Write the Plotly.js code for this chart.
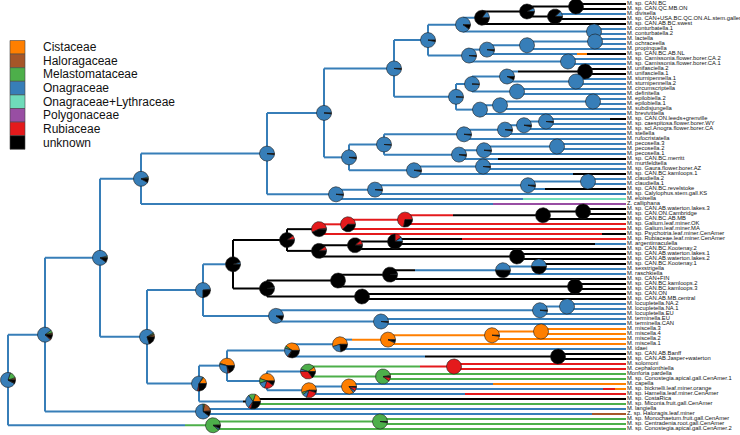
<!DOCTYPE html>
<html><head><meta charset="utf-8">
<script src="https://cdn.plot.ly/plotly-3.0.1.min.js"></script>
<style>html,body{margin:0;padding:0;background:#fff}#chart{width:740px;height:435px}</style>
</head><body><div id="chart"></div>
<script>
// ---- states (host plant families) ----
const states = ["Cistaceae","Haloragaceae","Melastomataceae","Onagraceae","Onagraceae+Lythraceae","Polygonaceae","Rubiaceae","unknown"];
const stateColors = ["#FF7F00","#A65628","#4DAF4A","#377EB8","#6FDBBA","#984EA3","#E41A1C","#000000"];

// ---- tips (top to bottom) ----
const tipLabels = [
"M. sp. CAN.BC","M. sp. CAN.QC.MB.ON","M. divisella","M. sp. CAN+USA.BC.QC.ON.AL.stem.galler","M. sp. CAN.AB.BC.swest",
"M. conturbatella.1","M. conturbatella.2","M. lactella","M. ochraceella","M. propinquella",
"M. sp. CAN.BC.AB.NL","M. sp. Camissonia.flower.borer.CA.2","M. sp. Camissonia.flower.borer.CA.1","M. unifasciella.2","M. unifasciella.1",
"M. sturnipennella.1","M. sturnipennella.2","M. circumscriptella","M. definitella","M. epilobiella.2",
"M. epilobiella.1","M. subdisjungella","M. brevivittella","M. sp. CAN.ON.leeds+grenville","M. sp. caespitosa.flower.borer.WY",
"M. sp. scl.Anogra.flower.borer.CA","M. stellella","M. rufocristatella","M. pecosella.3","M. pecosella.2",
"M. pecosella.1","M. sp. CAN.BC.merritt","M. murtfeldtella","M. sp. Gaura.flower.borer.AZ","M. sp. CAN.BC.kamloops.1",
"M. claudiella.2","M. claudiella.1","M. sp. CAN.BC.revelstoke","M. sp. Calylophus.stem.gall.KS","M. eloisella",
"Z. calliphana","M. sp. CAN.AB.waterton.lakes.3","M. sp. CAN.ON.Cambridge","M. sp. CAN.BC.AB.MB","M. sp. Galium.leaf.miner.OK",
"M. sp. Galium.leaf.miner.MA","M. sp. Psychotria.leaf.miner.CenAmer","M. sp. Rubiaceae.leaf.miner.CenAmer","M. argentimaculella","M. sp. CAN.BC.Kootenay.2",
"M. sp. CAN.AB.waterton.lakes.1","M. sp. CAN.AB.waterton.lakes.2","M. sp. CAN.BC.Kootenay.1","M. sexstrigella","M. raschkiella",
"M. sp. CAN+FIN","M. sp. CAN.BC.kamloops.2","M. sp. CAN.BC.kamloops.3","M. sp. CAN.ON","M. sp. CAN.AB.MB.central",
"M. locupletella.NA.2","M. locupletella.NA.1","M. locupletella.EU","M. terminella.EU","M. terminella.CAN",
"M. miscella.3","M. miscella.4","M. miscella.2","M. miscella.1","M. idaei",
"M. sp. CAN.AB.Banff","M. sp. CAN.AB.Jasper+waterton","M. solomoni","M. cephalonthiella","Monforia pardella",
"M. sp. Conostegia.apical.gall.CenAmer.1","M. capella","M. sp. bicknelli.leaf.miner.orange","M. sp. Hamelia.leaf.miner.CenAmer","M. sp. CostaRica",
"M. sp. Miconia.fruit.gall.CenAmer","M. langiella","Z. sp. Haloragis.leaf.miner","M. sp. Monochaetum.fruit.gall.CenAmer","M. sp. Centradenia.root.gall.CenAmer",
"M. sp. Conostegia.apical.gall.CenAmer.2"];
const tipParent = [
"n576","n576","n555","n555","n482","n594a","n594a","n595b","n595b","n527b",
"n487","n568","n568","n585","n585","n576b","n576b","n517","n517","n593",
"n593","n500","n480","n546","n546","n524","n505","n464","n557","n557",
"n484","n459","n483","n483","n414","n588","n588","n528","n375","n336",
"n141","n583","n583","n543","n405","n348","n319","n395","n395","n355",
"n517b","n517b","n539","n539","n503","n390","n575","n575","n362","n362",
"n567","n567","n540","n381","n381","n541","n541","n492","n388","n340",
"n558","n558","n454","n454","n383","n383","n349b","n349b","n309","n253",
"n253","nH","nH","nB1","nB1","nB"];
// stochastic map on each tip edge: state, switch depth, state, ...
const tipMap = [
[7],[7],[3],[7],[7],[3],[3],[3],[3],[3],
[3,577,0,587,7],[3],[3],[7],[7],[3],[3],[3],[3],[3],
[3],[3],[3],[3,610,7],[3],[3],[3],[3],[3],[3],
[3],[3,498,7],[3],[3],[3,573,7],[3],[3],[3,545,7],[3],[3,523,4],
[3,493,5],[7],[7],[7],[6],[6],[6,602,7],[7,462,6],[7,595,3],[7],
[7],[7],[7],[3],[3],[7],[7],[7],[7],[7],
[3],[3],[3],[3],[3],[0],[0],[0],[0],[3],
[7],[7],[6],[6],[2],[2],[3,493,0],[3,603,6,615,0],[3,465,6],[7],
[2],[3],[3,592,1],[2],[2],[2]];
const tipDepth = 626;

// ---- internal nodes ----
const nodeIds = ["nR","nA","nB","nB1","nH","n100","n141","nD","n267","n324",
"n336","n394","n349","n428","n456","n463","n469","n482","n594a","n527",
"n576","n555","n487","n568","n527b","n595b","n472","n480","n507","n517",
"n585","n576b","n500","n593","n384","n414","n464","n459","n505","n524",
"n546","n484","n557","n483","n375","n528","n588","n203","nC","n233",
"n276","n287","n267b","n319","n319b","n348","n405","n543","n583","n355",
"n517b","n395","n338","n362","n390","n575","n503","n539","n540","n567",
"n381","n227","n253","n292","n267c","n340","n558","n388","n492","n541",
"n308","n309","n454","n383","n349b"];
const nodeParent = [null,"nR","nR","nB","nA","nA","n100","n100","n141","n267",
"n267","n324","n324","n394","n394","n428","n428","n463","n463","n482",
"n527","n527","n469","n469","n487","n527b","n456","n456","n472","n472",
"n507","n507","n480","n500","n349","n349","n384","n384","n464","n505",
"n524","n459","n484","n414","n336","n375","n528","nD","nD","n203",
"n203","n233","n233","n287","n287","n319","n348","n405","n543","n319b",
"n319b","n355","n267b","n267b","n338","n338","n390","n503","n276","n540",
"n276","nC","nC","n227","n227","n292","n292","n340","n388","n492",
"n267c","n267c","n308","n308","n309"];
const nodeX = [8,45,213,380,203,100,141,147,267,324,
336,394,349,428,456,463,469,482,594,527,
576,555,487,568,527,595,472,480,507,517,
585,576,500,593,384,414,464,459,505,524,
546,484,557,483,375,528,588,203,199,233,
276,287,267,319,319,348,405,543,583,355,
517,395,338,362,390,575,503,539,540,567,
381,227,253,292,267,340,558,388,492,541,
308,309,454,383,349];
const nodeMap = [null,[3],[3,185,2],[2],[3],[3],[3],[3],[3],[3],
[3],[3],[3],[3],[3],[3],[3],[3],[3],[7],
[7],[7],[3],[3],[3],[3],[3],[3],[3],[3],
[3,518,7],[3],[3],[3],[3],[3],[3],[3],[3],[3],
[3],[3],[3],[3],[3],[3],[3],[3],[3],[3],
[3],[7],[7],[7],[7],[6],[6],[6,453,7],[7],[7],
[7],[7],[7],[7],[7],[7],[7,415,3],[3],[3],[3],
[3],[3],[3,243,7],[3],[3],[3],[3,425,7],[3,352,0],[0],[0],
[3],[3],[2,420,6],[2],[3]];
// posterior probabilities of states at each node (Cist, Halo, Mel, Ona, O+L, Poly, Rub, unk)
const nodePie = [
[.02,.03,.15,.72,0,0,.01,.07],[.02,.02,.06,.78,0,0,.02,.10],[0,.01,.88,.04,0,0,0,.07],[0,0,.98,0,0,0,0,.02],[.02,.20,.03,.65,0,0,0,.10],
[.01,0,.03,.86,0,0,0,.10],[.01,0,.03,.88,0,0,0,.08],[.04,.02,.03,.71,0,0,0,.20],[0,0,0,.98,0,0,0,.02],[0,0,0,.98,0,0,0,.02],
[0,0,0,.98,0,0,0,.02],[0,0,0,.98,0,0,0,.02],[0,0,0,.97,0,0,0,.03],[0,0,0,.97,0,0,0,.03],[0,0,0,.99,0,0,0,.01],
[0,0,0,.90,0,0,0,.10],[0,0,0,.98,0,0,0,.02],[0,0,0,.15,0,0,0,.85],[0,0,0,1,0,0,0,0],[0,0,0,.08,0,0,0,.92],
[0,0,0,0,0,0,0,1],[0,0,0,.12,0,0,0,.88],[0,0,0,.97,0,0,0,.03],[0,0,0,1,0,0,0,0],[0,0,0,1,0,0,0,0],
[0,0,0,1,0,0,0,0],[0,0,0,.99,0,0,0,.01],[0,0,0,1,0,0,0,0],[0,0,0,.93,0,0,0,.07],[0,0,0,1,0,0,0,0],
[0,0,0,0,0,0,0,1],[0,0,0,1,0,0,0,0],[0,0,0,1,0,0,0,0],[0,0,0,1,0,0,0,0],[0,0,0,.99,0,0,0,.01],
[0,0,0,.97,0,0,0,.03],[0,0,0,.98,0,0,0,.02],[0,0,0,.97,0,0,0,.03],[0,0,0,.97,0,0,0,.03],[0,0,0,.97,0,0,0,.03],
[0,0,0,.98,0,0,0,.02],[0,0,0,.98,0,0,0,.02],[0,0,0,1,0,0,0,0],[0,0,0,.98,0,0,0,.02],[0,0,0,.98,0,0,0,.02],
[0,0,0,.97,0,0,0,.03],[0,0,0,1,0,0,0,0],[.01,0,.01,.73,0,0,0,.25],[.15,0,.02,.55,0,0,.03,.25],[0,0,0,.05,0,0,0,.95],
[0,0,0,.90,0,0,0,.10],[0,0,0,.02,0,0,.08,.90],[0,0,0,.03,0,0,0,.97],[0,0,0,.02,0,0,.55,.43],[0,0,0,.02,0,0,.08,.90],
[0,0,0,0,0,0,.62,.38],[0,0,0,0,0,0,.72,.28],[0,0,0,0,0,0,0,1],[0,0,0,0,0,0,0,1],[0,0,0,.02,0,0,.10,.88],
[0,0,0,0,0,0,0,1],[0,0,0,.10,0,0,.15,.75],[0,0,0,0,0,0,0,1],[0,0,0,0,0,0,0,1],[0,0,0,.02,0,0,0,.98],
[0,0,0,0,0,0,0,1],[0,0,0,.50,0,0,0,.50],[0,0,0,.50,0,0,0,.50],[0,0,0,.98,0,0,0,.02],[0,0,0,1,0,0,0,0],
[0,0,0,.98,0,0,0,.02],[.45,0,.02,.30,0,0,.03,.20],[.20,0,.15,.30,0,0,.05,.30],[.40,0,.05,.20,0,0,.02,.33],[.45,0,.10,.15,0,0,.20,.10],
[.55,0,0,.22,0,0,0,.23],[0,0,0,0,0,0,0,1],[.93,0,0,.02,0,0,0,.05],[.98,0,0,0,0,0,0,.02],[1,0,0,0,0,0,0,0],
[.10,0,.35,.05,0,0,.35,.15],[.55,0,.05,.10,0,0,.25,.05],[0,0,0,0,0,0,1,0],[.03,0,.87,0,0,0,.08,.02],[.85,0,0,.05,0,0,.08,.02]];

// ---- build tree geometry ----
const idx = {}; nodeIds.forEach((id,k)=>idx[id]=k);
const kids = nodeIds.map(()=>[]);
nodeIds.forEach((id,k)=>{ if(nodeParent[k]!==null) kids[idx[nodeParent[k]]].push({t:'n',k:k}); });
tipLabels.forEach((l,i)=>kids[idx[tipParent[i]]].push({t:'t',i:i}));
const nodeY = [];
function childY(c){ return c.t==='t' ? c.i : getY(c.k); }
function getY(k){
  if(nodeY[k]!==undefined) return nodeY[k];
  const ys = kids[k].map(childY);
  nodeY[k] = (Math.min(...ys)+Math.max(...ys))/2;
  return nodeY[k];
}
nodeIds.forEach((id,k)=>getY(k));

const segX = states.map(()=>[]), segY = states.map(()=>[]);
function addSeg(s,x0,y0,x1,y1){ segX[s].push(x0,x1,null); segY[s].push(y0,y1,null); }
function edge(pk, cx, cy, map){
  const px = nodeX[pk], py = nodeY[pk];
  addSeg(map[0], px, py, px, cy);
  let x = px;
  for(let j=0;j<map.length;j+=2){
    const xe = (j+1<map.length) ? map[j+1] : cx;
    addSeg(map[j], x, cy, xe, cy);
    x = xe;
  }
}
nodeIds.forEach((id,k)=>{ if(nodeParent[k]!==null) edge(idx[nodeParent[k]], nodeX[k], nodeY[k], nodeMap[k]); });
tipLabels.forEach((l,i)=>edge(idx[tipParent[i]], tipDepth, i, tipMap[i]));

const traces = [];
states.forEach((s,si)=>{
  if(segX[si].length) traces.push({type:'scatter',mode:'lines',x:segX[si],y:segY[si],
    line:{color:stateColors[si],width:2},hoverinfo:'skip',showlegend:false});
});

// pies
const RX = 7.5, RY = 1.5, NPT = 60;
nodeIds.forEach((id,k)=>{
  const cx = nodeX[k], cy = nodeY[k], p = nodePie[k];
  const tot = p.reduce((a,b)=>a+b,0);
  let cum = 0;
  p.forEach((v,si)=>{
    const f = v/tot;
    if(f<=0.0005) return;
    const xs=[], ys=[];
    if(f>0.999){
      for(let j=0;j<=NPT;j++){ const a=2*Math.PI*j/NPT; xs.push(cx+RX*Math.cos(a)); ys.push(cy-RY*Math.sin(a)); }
    } else {
      const a0 = 2*Math.PI*cum, a1 = 2*Math.PI*(cum+f);
      const n = Math.max(2, Math.ceil(NPT*f));
      xs.push(cx); ys.push(cy);
      for(let j=0;j<=n;j++){ const a=a0+(a1-a0)*j/n; xs.push(cx+RX*Math.cos(a)); ys.push(cy-RY*Math.sin(a)); }
      xs.push(cx); ys.push(cy);
    }
    cum += f;
    traces.push({type:'scatter',mode:'lines',x:xs,y:ys,fill:'toself',fillcolor:stateColors[si],
      line:{color:'#1a1a1a',width:0.6},hoverinfo:'skip',showlegend:false});
  });
});

// tip labels
traces.push({type:'scatter',mode:'text',x:tipLabels.map(()=>tipDepth+1),y:tipLabels.map((l,i)=>i),
  text:tipLabels,textposition:'middle right',
  textfont:{family:'Liberation Sans, Arial, sans-serif',size:5.8,color:'#111'},hoverinfo:'skip',showlegend:false});

// legend (drawn as boxes + text)
const shapes = [], annotations = [];
const LTOP = 40.5, LSTEP = 13.6;
states.forEach((s,i)=>{
  const y0 = LTOP + i*LSTEP, y1 = y0 + LSTEP;
  shapes.push({type:'rect',xref:'paper',yref:'paper',x0:10/740,x1:25/740,y0:1-y1/435,y1:1-y0/435,
    fillcolor:stateColors[i],line:{color:'#444',width:0.6}});
  annotations.push({xref:'paper',yref:'paper',x:41/740,y:1-(y0+LSTEP/2)/435,xanchor:'left',yanchor:'middle',
    text:s,showarrow:false,font:{family:'Liberation Sans, Arial, sans-serif',size:12,color:'#111'}});
});

Plotly.newPlot('chart', traces, {
  width:740,height:435,margin:{l:0,r:0,t:0,b:0},
  paper_bgcolor:'#fff',plot_bgcolor:'#fff',showlegend:false,hovermode:false,
  xaxis:{range:[0,740],visible:false,fixedrange:true},
  yaxis:{range:[86.2,-0.8],visible:false,fixedrange:true},
  shapes:shapes,annotations:annotations
},{displayModeBar:false,staticPlot:true});
</script></body></html>
